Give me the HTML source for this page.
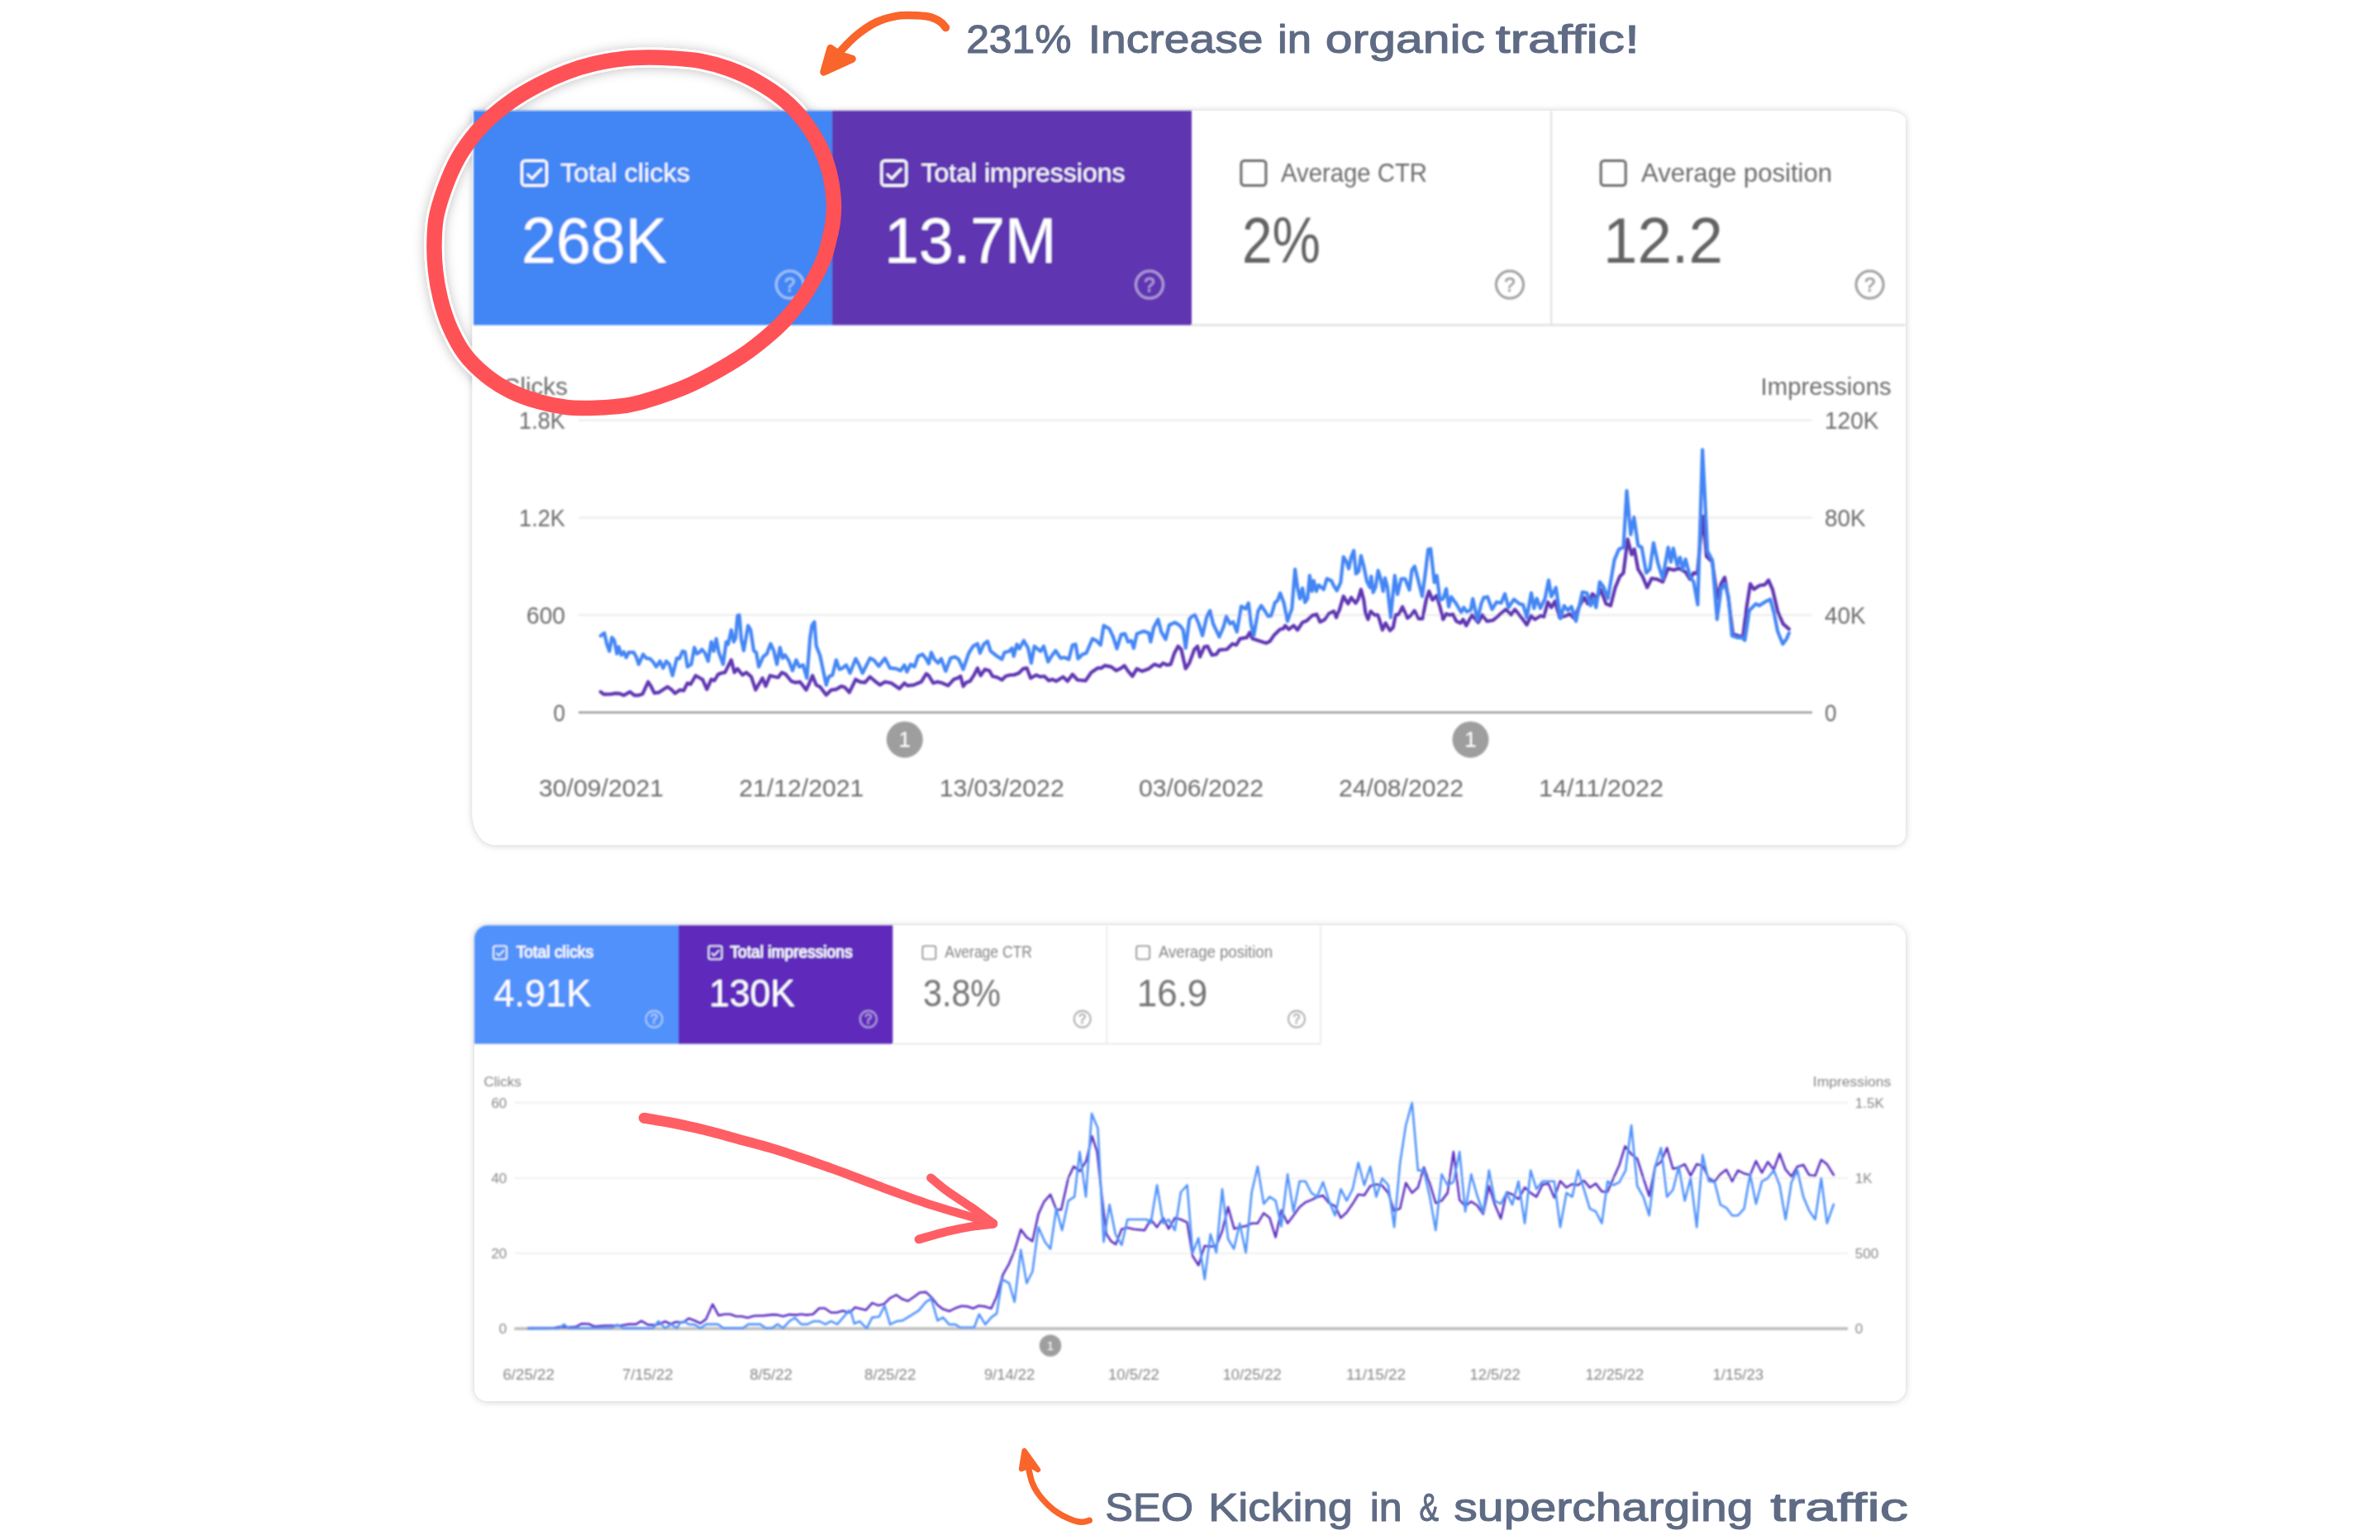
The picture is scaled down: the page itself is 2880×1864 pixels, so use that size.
<!DOCTYPE html>
<html><head><meta charset="utf-8"><title>Search Console results</title>
<style>
html,body{margin:0;padding:0;background:#fff;}
body{width:2880px;height:1864px;overflow:hidden;position:relative;}
svg{position:absolute;left:0;top:0;display:block;font-family:"Liberation Sans", Arial, sans-serif;}
</style></head><body>
<svg width="2880" height="1864" viewBox="0 0 2880 1864">
<defs>
<filter id="sh" x="-5%" y="-5%" width="110%" height="110%"><feDropShadow dx="0" dy="0.5" stdDeviation="4.5" flood-color="#000" flood-opacity="0.2"/></filter>
<filter id="sh2" x="-10%" y="-10%" width="120%" height="120%"><feDropShadow dx="0" dy="1" stdDeviation="7" flood-color="#000" flood-opacity="0.25"/></filter>
<filter id="b1" filterUnits="userSpaceOnUse" x="0" y="0" width="2880" height="1864"><feGaussianBlur stdDeviation="0.85"/></filter>
<filter id="b2" filterUnits="userSpaceOnUse" x="0" y="0" width="2880" height="1864"><feGaussianBlur stdDeviation="0.8"/></filter>
</defs>
<rect width="2880" height="1864" fill="#fff"/>
<path d="M785.0,69.5 C795.1,69.4 803.4,69.7 813.8,70.4 C824.2,71.1 836.2,71.7 847.5,73.8 C858.8,75.9 870.0,78.9 881.3,83.0 C892.5,87.1 903.8,91.9 915.0,98.2 C926.2,104.5 938.9,112.7 948.8,121.0 C958.7,129.3 966.9,138.4 974.2,148.0 C981.5,157.6 987.8,168.3 992.7,178.4 C997.6,188.5 1001.0,198.1 1003.7,208.8 C1006.4,219.5 1008.1,232.7 1008.8,242.6 C1009.5,252.5 1008.6,260.9 1007.9,268.0 C1007.2,275.1 1006.2,278.2 1004.5,285.3 C1002.8,292.4 1000.9,302.2 997.8,310.6 C994.7,319.1 990.5,327.6 986.0,336.0 C981.5,344.4 976.7,352.9 970.8,361.3 C964.9,369.7 957.8,378.7 950.5,386.6 C943.2,394.5 935.6,401.3 926.9,408.6 C918.2,415.9 908.6,423.5 898.2,430.5 C887.8,437.5 875.7,444.6 864.4,450.8 C853.1,457.0 841.9,462.8 830.6,467.7 C819.4,472.6 806.2,477.1 796.9,480.3 C787.6,483.5 782.3,485.2 775.0,487.0 C767.7,488.8 762.5,490.2 753.3,491.3 C744.0,492.4 730.8,493.5 719.5,493.8 C708.2,494.1 697.0,494.3 685.7,493.0 C674.5,491.7 663.2,489.4 652.0,486.2 C640.8,483.0 628.9,478.9 618.2,473.6 C607.5,468.3 597.1,461.7 587.8,454.2 C578.5,446.7 569.8,438.6 562.5,428.8 C555.2,419.0 548.8,406.4 543.9,395.1 C539.0,383.9 535.7,372.6 532.9,361.3 C530.1,350.0 528.2,338.8 527.0,327.5 C525.8,316.2 525.2,305.1 525.5,293.8 C525.8,282.6 525.7,272.8 528.5,260.0 C531.3,247.2 537.1,230.1 542.2,217.3 C547.3,204.6 552.1,194.5 559.1,183.5 C566.1,172.5 574.5,161.5 584.4,151.4 C594.2,141.3 606.9,130.8 618.2,122.7 C629.5,114.5 640.8,108.4 652.0,102.5 C663.2,96.6 674.5,91.5 685.7,87.3 C697.0,83.1 708.2,79.8 719.5,77.1 C730.8,74.4 742.4,72.5 753.3,71.2 C764.2,69.9 774.9,69.6 785.0,69.5 Z" fill="none" stroke="#fff" stroke-width="24" filter="url(#sh2)"/>
<path d="M571.5,134.0 H2280.0 A26,12 0 0 1 2306.0,146.0 V1008.8 A14,14 0 0 1 2292.0,1022.8 H598.5 A27,39 0 0 1 571.5,983.8 V134.0 Z" fill="#fff" filter="url(#sh)"/>
<g filter="url(#b1)">
<rect x="573" y="134" width="434" height="259.5" fill="#4285f4"/>
<rect x="1007" y="134" width="435" height="259.5" fill="#5e35b1"/>
<rect x="1442" y="392.3" width="864" height="2.4" fill="#e0e0e0"/>
<rect x="1876.2" y="134" width="1.8" height="259.5" fill="#dcdcdc"/>
<rect x="631.5" y="194.5" width="30.0" height="30.0" rx="4" fill="none" stroke="#fff" stroke-width="3"/>
<path d="M637.9,210.5 L643.9,216.1 L655.7,203.9" fill="none" stroke="#fff" stroke-width="3"/>
<text x="678.0" y="220.3" font-size="32.0" fill="#fff" text-anchor="start" font-weight="400" textLength="157.0" lengthAdjust="spacingAndGlyphs">Total clicks</text>
<text x="631.0" y="318.0" font-size="77.5" fill="#fff" text-anchor="start" font-weight="400" textLength="176.0" lengthAdjust="spacingAndGlyphs">268K</text>
<g opacity="0.5"><circle cx="955.8" cy="344.6" r="16.5" fill="none" stroke="#fff" stroke-width="3"/>
<text x="955.8" y="353.2" font-size="24" fill="#fff" text-anchor="middle" stroke="#fff" stroke-width="0.6">?</text></g>
<rect x="1066.8" y="194.5" width="30.0" height="30.0" rx="4" fill="none" stroke="#fff" stroke-width="3"/>
<path d="M1073.2,210.5 L1079.2,216.1 L1091.0,203.9" fill="none" stroke="#fff" stroke-width="3"/>
<text x="1114.5" y="220.3" font-size="32.0" fill="#fff" text-anchor="start" font-weight="400" textLength="247.0" lengthAdjust="spacingAndGlyphs">Total impressions</text>
<text x="1070.3" y="318.0" font-size="77.5" fill="#fff" text-anchor="start" font-weight="400" textLength="208.0" lengthAdjust="spacingAndGlyphs">13.7M</text>
<g opacity="0.5"><circle cx="1391.0" cy="344.6" r="16.5" fill="none" stroke="#fff" stroke-width="3"/>
<text x="1391.0" y="353.2" font-size="24" fill="#fff" text-anchor="middle" stroke="#fff" stroke-width="0.6">?</text></g>
<rect x="1501.9" y="194.5" width="30.0" height="30.0" rx="4" fill="none" stroke="#6c6c6c" stroke-width="3"/>
<text x="1550.0" y="220.3" font-size="32.0" fill="#6c6c6c" text-anchor="start" font-weight="400" textLength="177.0" lengthAdjust="spacingAndGlyphs">Average CTR</text>
<text x="1503.0" y="318.0" font-size="77.5" fill="#646464" text-anchor="start" font-weight="400" textLength="95.0" lengthAdjust="spacingAndGlyphs">2%</text>
<g opacity="1"><circle cx="1827.0" cy="344.6" r="16.5" fill="none" stroke="#9e9e9e" stroke-width="3"/>
<text x="1827.0" y="353.2" font-size="24" fill="#9e9e9e" text-anchor="middle" stroke="#9e9e9e" stroke-width="0.6">?</text></g>
<rect x="1937.2" y="194.5" width="30.0" height="30.0" rx="4" fill="none" stroke="#6c6c6c" stroke-width="3"/>
<text x="1986.0" y="220.3" font-size="32.0" fill="#6c6c6c" text-anchor="start" font-weight="400" textLength="231.0" lengthAdjust="spacingAndGlyphs">Average position</text>
<text x="1940.0" y="318.0" font-size="77.5" fill="#646464" text-anchor="start" font-weight="400" textLength="145.0" lengthAdjust="spacingAndGlyphs">12.2</text>
<g opacity="1"><circle cx="2262.6" cy="344.6" r="16.5" fill="none" stroke="#9e9e9e" stroke-width="3"/>
<text x="2262.6" y="353.2" font-size="24" fill="#9e9e9e" text-anchor="middle" stroke="#9e9e9e" stroke-width="0.6">?</text></g>
<rect x="700" y="507.5" width="1493" height="2.2" fill="#ececec"/>
<rect x="700" y="625.4" width="1493" height="2.2" fill="#ececec"/>
<rect x="700" y="743.3" width="1493" height="2.2" fill="#ececec"/>
<rect x="700" y="861.0" width="1493" height="2.6" fill="#9e9e9e"/>
<text x="684.0" y="518.9" font-size="29.5" fill="#6c6c6c" text-anchor="end" font-weight="400" textLength="56.0" lengthAdjust="spacingAndGlyphs">1.8K</text>
<text x="684.0" y="636.8" font-size="29.5" fill="#6c6c6c" text-anchor="end" font-weight="400" textLength="56.0" lengthAdjust="spacingAndGlyphs">1.2K</text>
<text x="684.0" y="754.7" font-size="29.5" fill="#6c6c6c" text-anchor="end" font-weight="400" textLength="47.0" lengthAdjust="spacingAndGlyphs">600</text>
<text x="684.0" y="872.6" font-size="29.5" fill="#6c6c6c" text-anchor="end" font-weight="400" textLength="14.5" lengthAdjust="spacingAndGlyphs">0</text>
<text x="2208.0" y="518.9" font-size="29.5" fill="#6c6c6c" text-anchor="start" font-weight="400" textLength="65.5" lengthAdjust="spacingAndGlyphs">120K</text>
<text x="2208.0" y="636.8" font-size="29.5" fill="#6c6c6c" text-anchor="start" font-weight="400" textLength="49.6" lengthAdjust="spacingAndGlyphs">80K</text>
<text x="2208.0" y="754.7" font-size="29.5" fill="#6c6c6c" text-anchor="start" font-weight="400" textLength="49.6" lengthAdjust="spacingAndGlyphs">40K</text>
<text x="2208.0" y="872.6" font-size="29.5" fill="#6c6c6c" text-anchor="start" font-weight="400" textLength="14.5" lengthAdjust="spacingAndGlyphs">0</text>
<text x="608.0" y="477.6" font-size="29.5" fill="#6c6c6c" text-anchor="start" font-weight="400" textLength="79.0" lengthAdjust="spacingAndGlyphs">Clicks</text>
<text x="2288.6" y="477.6" font-size="29.5" fill="#6c6c6c" text-anchor="end" font-weight="400" textLength="158.0" lengthAdjust="spacingAndGlyphs">Impressions</text>
<text x="652.0" y="963.8" font-size="29.5" fill="#6c6c6c" text-anchor="start" font-weight="400" textLength="151.0" lengthAdjust="spacingAndGlyphs">30/09/2021</text>
<text x="894.3" y="963.8" font-size="29.5" fill="#6c6c6c" text-anchor="start" font-weight="400" textLength="151.0" lengthAdjust="spacingAndGlyphs">21/12/2021</text>
<text x="1136.7" y="963.8" font-size="29.5" fill="#6c6c6c" text-anchor="start" font-weight="400" textLength="151.0" lengthAdjust="spacingAndGlyphs">13/03/2022</text>
<text x="1378.0" y="963.8" font-size="29.5" fill="#6c6c6c" text-anchor="start" font-weight="400" textLength="151.0" lengthAdjust="spacingAndGlyphs">03/06/2022</text>
<text x="1620.0" y="963.8" font-size="29.5" fill="#6c6c6c" text-anchor="start" font-weight="400" textLength="151.0" lengthAdjust="spacingAndGlyphs">24/08/2022</text>
<text x="1862.0" y="963.8" font-size="29.5" fill="#6c6c6c" text-anchor="start" font-weight="400" textLength="151.0" lengthAdjust="spacingAndGlyphs">14/11/2022</text>
<circle cx="1094.8" cy="895.2" r="22" fill="#9e9e9e"/>
<text x="1094.8" y="904.3" font-size="26" fill="#fff" text-anchor="middle">1</text>
<circle cx="1779.5" cy="895.2" r="22" fill="#9e9e9e"/>
<text x="1779.5" y="904.3" font-size="26" fill="#fff" text-anchor="middle">1</text>
<path d="M726.8,837.4 L730.6,840.4 L739.7,840.1 L744.2,839.2 L750.3,839.7 L754.8,841.6 L762.4,837.4 L767.6,841.6 L772.9,841.6 L777.5,840.1 L784.3,825.3 L787.3,829.8 L791.8,838.9 L797.1,838.2 L807.7,831.3 L812.3,834.4 L816.8,839.2 L822.9,835.1 L827.4,835.9 L831.9,826.8 L835.7,828.3 L841.8,817.7 L847.1,820.8 L850.1,822.3 L855.4,834.4 L860.7,822.3 L864.5,823.8 L869.0,816.2 L872.8,814.7 L877.3,813.9 L884.9,798.8 L888.7,813.9 L892.4,809.4 L898.5,817.0 L903.0,813.9 L909.1,819.2 L914.4,835.1 L918.2,828.3 L922.7,820.8 L926.5,830.6 L931.8,817.7 L937.8,819.2 L941.6,820.0 L946.1,813.9 L950.7,816.2 L957.5,824.5 L962.0,826.1 L968.1,825.3 L975.6,835.1 L979.4,826.8 L983.2,817.7 L987.7,829.1 L992.3,831.3 L999.8,841.2 L1005.9,835.1 L1011.9,834.4 L1018.0,830.6 L1022.5,832.1 L1027.8,838.2 L1035.4,822.3 L1040.7,825.3 L1046.7,826.1 L1052.8,819.2 L1058.8,824.5 L1064.9,829.1 L1070.9,825.3 L1078.5,826.8 L1088.3,833.6 L1094.4,826.8 L1098.2,829.8 L1105.7,829.1 L1114.8,825.3 L1120.8,815.5 L1123.9,817.7 L1129.2,826.8 L1134.5,825.3 L1140.5,826.8 L1147.3,829.8 L1154.1,822.3 L1158.7,820.8 L1162.4,818.5 L1165.5,830.6 L1169.2,826.1 L1173.8,824.5 L1178.3,817.7 L1182.9,808.7 L1186.6,817.7 L1191.9,810.2 L1197.2,811.7 L1201.0,818.5 L1207.1,820.0 L1212.4,823.0 L1216.9,818.5 L1222.2,817.0 L1226.7,817.0 L1232.8,814.7 L1238.1,809.4 L1242.6,808.7 L1247.1,820.8 L1253.9,817.0 L1258.5,819.2 L1263.8,818.5 L1269.1,823.8 L1273.6,822.3 L1278.2,824.5 L1286.5,819.2 L1291.8,824.5 L1297.8,816.2 L1303.9,823.0 L1313.7,823.8 L1320.5,813.9 L1328.1,808.7 L1332.6,808.7 L1337.1,805.6 L1344.7,807.1 L1350.8,811.7 L1356.8,808.7 L1360.6,805.6 L1365.1,812.4 L1370.4,818.5 L1375.7,809.4 L1381.8,812.4 L1390.1,809.4 L1396.9,804.1 L1403.7,806.4 L1407.5,802.6 L1412.0,804.9 L1416.6,804.1 L1421.1,790.5 L1425.6,782.2 L1429.4,786.0 L1434.7,809.4 L1439.2,802.6 L1445.3,786.0 L1449.1,782.2 L1452.1,795.0 L1457.4,782.9 L1461.2,782.2 L1466.5,792.8 L1471.8,792.0 L1475.5,786.7 L1484.6,786.0 L1491.4,779.2 L1496.0,780.7 L1500.5,773.1 L1508.8,771.6 L1512.3,765.5 L1515.6,773.1 L1524.7,776.1 L1532.3,778.4 L1536.8,776.1 L1541.3,769.3 L1548.9,761.8 L1552.7,761.0 L1555.3,757.2 L1559.5,761.8 L1565.5,757.2 L1570.1,762.5 L1576.1,753.4 L1581.4,751.2 L1587.5,745.1 L1593.5,743.6 L1597.3,752.7 L1602.6,750.4 L1607.9,742.9 L1613.9,739.8 L1617.0,747.4 L1620.8,738.3 L1625.7,721.7 L1631.3,730.8 L1635.1,723.2 L1640.4,730.0 L1643.4,725.5 L1646.9,713.4 L1650.3,726.2 L1652.5,742.9 L1655.5,749.7 L1658.6,739.8 L1663.1,744.4 L1667.6,744.4 L1672.9,762.5 L1676.7,754.2 L1682.0,763.3 L1685.8,759.5 L1688.8,744.4 L1692.6,743.6 L1697.1,734.5 L1703.2,748.2 L1707.7,744.4 L1711.5,739.1 L1716.8,748.9 L1721.3,748.9 L1725.9,725.5 L1729.2,715.6 L1733.4,726.2 L1738.3,720.9 L1742.5,734.5 L1746.3,749.7 L1750.1,742.9 L1753.9,744.4 L1758.4,743.6 L1762.2,751.9 L1767.5,754.2 L1770.5,749.7 L1774.3,757.2 L1781.1,744.4 L1784.9,748.9 L1788.7,753.4 L1793.9,744.4 L1799.2,751.9 L1800.0,751.9 L1806.6,750.8 L1814.4,744.2 L1822.1,737.6 L1828.7,744.2 L1833.1,737.6 L1842.0,748.6 L1847.5,756.3 L1853.0,745.3 L1857.4,749.7 L1864.0,745.3 L1868.4,746.4 L1872.9,728.7 L1877.3,735.3 L1881.7,727.6 L1887.2,747.5 L1894.9,745.3 L1899.4,743.1 L1904.9,748.6 L1910.4,735.3 L1917.0,723.2 L1921.4,730.9 L1927.0,718.8 L1932.5,724.3 L1936.9,713.3 L1943.5,730.9 L1949.0,733.1 L1954.6,711.1 L1960.1,697.8 L1964.5,693.4 L1969.6,652.5 L1974.4,671.3 L1977.7,664.7 L1982.2,689.0 L1987.7,697.8 L1993.2,711.1 L1998.7,700.0 L2005.3,701.1 L2012.0,704.4 L2018.6,687.9 L2025.2,690.1 L2031.8,687.9 L2039.6,692.3 L2045.1,701.1 L2049.5,693.4 L2053.9,694.5 L2057.2,658.1 L2061.0,624.9 L2065.0,673.5 L2072.0,680.1 L2078.2,724.3 L2082.6,706.6 L2087.0,698.9 L2091.5,724.3 L2097.0,767.4 L2103.6,769.6 L2109.1,770.7 L2113.5,735.3 L2118.0,706.6 L2122.4,713.3 L2129.0,708.8 L2135.6,707.7 L2140.0,702.2 L2144.9,713.3 L2151.1,739.8 L2157.7,755.2 L2164.8,761.4" fill="none" stroke="#5e35b1" stroke-width="4.2" stroke-linejoin="round" stroke-linecap="round"/>
<path d="M726.8,769.6 L731.3,766.3 L734.4,779.9 L737.4,788.2 L740.4,771.6 L743.4,775.4 L746.5,791.3 L748.7,782.9 L751.8,792.8 L754.8,789.0 L757.8,795.8 L760.8,789.7 L766.9,789.7 L769.9,795.0 L772.9,804.1 L778.2,792.0 L782.0,796.6 L786.6,797.3 L790.3,801.1 L794.1,807.1 L798.7,800.3 L802.4,808.7 L806.2,800.3 L810.0,804.1 L813.8,817.7 L819.1,796.6 L822.1,797.3 L825.9,788.2 L828.9,789.0 L831.9,807.1 L836.5,804.1 L840.3,783.7 L843.3,791.3 L846.3,789.7 L849.3,786.0 L853.1,790.5 L856.9,800.3 L860.7,776.9 L863.7,788.2 L866.7,773.1 L869.7,789.0 L875.0,804.1 L878.8,776.9 L881.1,779.9 L884.9,762.5 L887.9,776.9 L890.2,772.4 L892.4,745.1 L894.7,744.4 L897.0,773.9 L900.0,787.5 L905.3,757.2 L908.3,762.5 L912.1,787.5 L915.1,789.7 L918.2,807.1 L923.4,795.0 L928.0,791.3 L932.5,779.2 L936.3,787.5 L940.1,804.1 L943.9,783.7 L946.9,796.6 L949.9,792.8 L954.5,799.6 L959.0,811.7 L963.5,798.8 L967.3,807.1 L971.8,804.9 L976.4,820.8 L980.2,772.4 L982.4,757.2 L985.5,752.7 L987.7,781.4 L992.3,793.5 L999.8,829.1 L1002.9,819.2 L1007.4,817.0 L1011.9,798.8 L1015.7,810.2 L1019.5,808.7 L1024.0,804.9 L1028.6,814.7 L1035.4,797.3 L1039.2,804.1 L1043.7,814.7 L1052.8,796.6 L1057.3,798.8 L1063.4,806.4 L1070.9,796.6 L1077.0,808.7 L1084.5,809.4 L1089.8,811.7 L1094.4,804.9 L1097.4,813.2 L1101.9,804.1 L1106.5,807.1 L1111.0,794.3 L1116.3,792.0 L1120.1,796.6 L1123.9,803.4 L1126.9,789.7 L1130.7,798.1 L1135.2,802.6 L1139.0,797.3 L1144.3,812.4 L1150.3,796.6 L1155.6,795.0 L1160.2,798.1 L1165.5,810.2 L1172.3,790.5 L1177.6,782.2 L1182.9,779.2 L1185.9,790.5 L1190.4,779.9 L1195.0,776.1 L1198.7,788.2 L1205.5,793.5 L1212.4,798.1 L1215.4,789.7 L1221.4,788.2 L1224.5,784.5 L1226.7,794.3 L1230.5,779.9 L1233.5,785.2 L1238.8,775.4 L1244.1,784.5 L1247.9,802.6 L1251.7,782.2 L1256.2,786.0 L1259.2,788.2 L1263.0,782.2 L1268.3,801.1 L1272.9,793.5 L1277.4,787.5 L1283.4,796.6 L1288.0,795.8 L1293.3,798.1 L1297.8,780.7 L1301.6,779.9 L1304.6,797.3 L1309.9,792.0 L1314.5,790.5 L1322.0,773.1 L1326.6,775.4 L1331.8,780.7 L1335.6,757.2 L1342.4,761.0 L1347.0,770.8 L1351.5,785.2 L1356.8,767.8 L1361.3,767.1 L1365.1,776.9 L1368.9,775.4 L1371.9,784.5 L1375.7,767.1 L1384.0,764.0 L1390.1,766.3 L1392.4,776.9 L1396.1,759.5 L1401.4,749.7 L1405.2,764.8 L1410.5,773.9 L1415.0,756.5 L1421.8,753.4 L1427.9,757.2 L1431.7,762.5 L1434.7,784.5 L1439.2,749.7 L1442.3,745.9 L1446.1,744.4 L1450.6,755.0 L1455.1,769.3 L1460.4,745.9 L1464.2,739.1 L1468.0,755.0 L1475.5,770.8 L1480.8,758.0 L1483.9,745.9 L1488.4,755.0 L1492.2,752.7 L1496.7,764.8 L1502.0,733.8 L1507.3,736.8 L1510.8,730.0 L1514.1,756.5 L1517.1,769.3 L1522.4,739.8 L1526.2,733.0 L1530.8,739.8 L1534.5,745.9 L1538.3,745.1 L1542.9,729.2 L1545.9,727.0 L1549.2,717.9 L1553.4,729.2 L1558.0,751.9 L1563.3,736.8 L1567.1,689.2 L1570.1,711.1 L1573.1,724.7 L1576.1,711.8 L1579.2,729.2 L1582.2,724.7 L1584.8,696.7 L1587.5,715.6 L1589.7,702.8 L1592.8,715.6 L1595.8,708.1 L1601.8,713.4 L1605.6,700.5 L1610.9,702.8 L1613.9,708.8 L1617.7,714.9 L1622.3,705.0 L1625.7,674.0 L1629.1,679.3 L1632.1,688.4 L1635.1,674.0 L1638.2,666.5 L1640.9,694.5 L1644.2,691.4 L1646.9,672.5 L1650.3,685.4 L1654.0,703.5 L1657.8,711.1 L1659.3,697.5 L1661.6,717.1 L1664.6,710.3 L1667.6,690.7 L1670.7,700.5 L1673.7,715.6 L1676.0,699.7 L1679.0,711.1 L1682.8,747.4 L1687.8,696.7 L1691.1,719.4 L1695.6,700.5 L1700.2,700.5 L1705.5,714.1 L1708.5,689.9 L1711.8,685.4 L1716.1,702.0 L1721.0,721.7 L1725.1,691.4 L1728.2,665.0 L1731.2,664.2 L1735.7,705.0 L1738.7,696.7 L1742.5,726.2 L1746.3,724.7 L1750.1,712.6 L1753.1,734.5 L1756.1,722.4 L1762.2,730.8 L1768.2,741.3 L1771.3,735.3 L1775.0,740.6 L1779.6,738.3 L1782.2,724.7 L1787.9,750.4 L1792.4,730.8 L1795.5,723.2 L1799.2,723.2 L1800.0,722.1 L1805.5,737.6 L1811.0,728.7 L1816.6,729.8 L1821.0,718.8 L1825.4,735.3 L1832.0,725.4 L1838.6,730.9 L1843.1,732.0 L1847.5,747.5 L1853.0,717.7 L1856.3,736.4 L1859.6,724.3 L1864.0,736.4 L1869.6,724.3 L1874.0,702.2 L1877.3,722.1 L1882.8,711.1 L1888.3,748.6 L1892.7,733.1 L1897.2,738.7 L1901.6,734.2 L1907.1,751.9 L1914.8,716.6 L1920.3,717.7 L1924.8,733.1 L1928.1,724.3 L1931.4,735.3 L1935.8,704.4 L1940.2,710.0 L1945.7,724.3 L1953.5,677.9 L1959.0,664.7 L1964.5,662.5 L1968.5,594.0 L1973.3,647.0 L1977.3,626.0 L1982.2,660.3 L1986.6,662.5 L1992.1,693.4 L1996.5,689.0 L2000.9,657.0 L2006.4,682.4 L2012.0,700.0 L2018.6,662.5 L2021.9,680.1 L2024.8,663.6 L2029.6,684.6 L2032.9,674.6 L2036.3,689.0 L2039.6,676.8 L2045.1,697.8 L2049.5,704.4 L2054.4,732.0 L2060.1,544.4 L2062.8,596.2 L2066.1,666.9 L2072.0,677.9 L2077.8,749.7 L2082.6,713.3 L2087.0,706.6 L2091.5,722.1 L2095.9,769.6 L2102.5,771.8 L2108.0,771.8 L2111.3,775.1 L2116.9,738.7 L2124.6,730.9 L2129.0,733.1 L2135.6,728.7 L2142.2,725.4 L2146.7,742.0 L2151.1,764.0 L2157.3,779.5 L2162.1,772.9 L2164.8,766.3" fill="none" stroke="#4285f4" stroke-width="4.2" stroke-linejoin="round" stroke-linecap="round"/>
</g>
<path d="M590.0,1120.0 H2290.0 A16,16 0 0 1 2306.0,1136.0 V1680.0 A16,16 0 0 1 2290.0,1696.0 H590.0 A16,16 0 0 1 574.0,1680.0 V1136.0 A16,16 0 0 1 590.0,1120.0 Z" fill="#fff" filter="url(#sh)"/>
<g filter="url(#b2)">
<path d="M590.0,1120.0 H821.0 V1263.5 H574.0 V1136.0 A16,16 0 0 1 590.0,1120.0 Z" fill="#5191fb"/>
<rect x="821" y="1120" width="259.29999999999995" height="143.5" fill="#5e2bbc"/>
<rect x="1080.3" y="1262.7" width="517.7" height="1.6" fill="#e4e4e4"/>
<rect x="1338.6" y="1120" width="1.4" height="143.5" fill="#e4e4e4"/>
<rect x="1597.3" y="1120" width="1.4" height="143.5" fill="#e4e4e4"/>
<rect x="597.1" y="1145.0" width="16.0" height="16.0" rx="2.5" fill="none" stroke="#fff" stroke-width="1.6"/>
<path d="M600.5,1153.5 L603.7,1156.5 L610.0,1150.0" fill="none" stroke="#fff" stroke-width="1.6"/>
<text x="624.7" y="1159.2" font-size="20.5" fill="#fff" text-anchor="start" font-weight="400" textLength="93.5" lengthAdjust="spacingAndGlyphs" stroke="#fff" stroke-width="0.7">Total clicks</text>
<text x="597.4" y="1218.0" font-size="45.5" fill="#fff" text-anchor="start" font-weight="400" textLength="118.0" lengthAdjust="spacingAndGlyphs">4.91K</text>
<g opacity="0.55"><circle cx="791.5" cy="1233.5" r="10" fill="none" stroke="#fff" stroke-width="1.8"/>
<text x="791.5" y="1239.3" font-size="16" fill="#fff" text-anchor="middle" stroke="#fff" stroke-width="0.6">?</text></g>
<rect x="857.5" y="1145.0" width="16.0" height="16.0" rx="2.5" fill="none" stroke="#fff" stroke-width="1.6"/>
<path d="M860.9,1153.5 L864.1,1156.5 L870.4,1150.0" fill="none" stroke="#fff" stroke-width="1.6"/>
<text x="883.5" y="1159.2" font-size="20.5" fill="#fff" text-anchor="start" font-weight="400" textLength="148.0" lengthAdjust="spacingAndGlyphs" stroke="#fff" stroke-width="0.7">Total impressions</text>
<text x="858.0" y="1218.0" font-size="45.5" fill="#fff" text-anchor="start" font-weight="400" textLength="104.0" lengthAdjust="spacingAndGlyphs">130K</text>
<g opacity="0.55"><circle cx="1050.8" cy="1233.5" r="10" fill="none" stroke="#fff" stroke-width="1.8"/>
<text x="1050.8" y="1239.3" font-size="16" fill="#fff" text-anchor="middle" stroke="#fff" stroke-width="0.6">?</text></g>
<rect x="1116.4" y="1145.0" width="16.0" height="16.0" rx="2.5" fill="none" stroke="#8a8a8a" stroke-width="1.6"/>
<text x="1143.3" y="1159.2" font-size="20.5" fill="#848484" text-anchor="start" font-weight="400" textLength="105.5" lengthAdjust="spacingAndGlyphs">Average CTR</text>
<text x="1117.0" y="1218.0" font-size="45.5" fill="#747474" text-anchor="start" font-weight="400" textLength="94.0" lengthAdjust="spacingAndGlyphs">3.8%</text>
<g opacity="1"><circle cx="1309.7" cy="1233.5" r="10" fill="none" stroke="#a8a8a8" stroke-width="1.8"/>
<text x="1309.7" y="1239.3" font-size="16" fill="#a8a8a8" text-anchor="middle" stroke="#a8a8a8" stroke-width="0.6">?</text></g>
<rect x="1375.2" y="1145.0" width="16.0" height="16.0" rx="2.5" fill="none" stroke="#8a8a8a" stroke-width="1.6"/>
<text x="1402.0" y="1159.2" font-size="20.5" fill="#848484" text-anchor="start" font-weight="400" textLength="138.0" lengthAdjust="spacingAndGlyphs">Average position</text>
<text x="1375.8" y="1218.0" font-size="45.5" fill="#747474" text-anchor="start" font-weight="400" textLength="85.5" lengthAdjust="spacingAndGlyphs">16.9</text>
<g opacity="1"><circle cx="1569.0" cy="1233.5" r="10" fill="none" stroke="#a8a8a8" stroke-width="1.8"/>
<text x="1569.0" y="1239.3" font-size="16" fill="#a8a8a8" text-anchor="middle" stroke="#a8a8a8" stroke-width="0.6">?</text></g>
<rect x="622.4" y="1333.7" width="1613.6" height="1.8" fill="#eeeeee"/>
<rect x="622.4" y="1424.9" width="1613.6" height="1.8" fill="#eeeeee"/>
<rect x="622.4" y="1516.1" width="1613.6" height="1.8" fill="#eeeeee"/>
<rect x="622.4" y="1606.4" width="1613.6" height="3.6" fill="#bdbdbd"/>
<text x="613.3" y="1340.6" font-size="17.0" fill="#868686" text-anchor="end" font-weight="400">60</text>
<text x="613.3" y="1431.8" font-size="17.0" fill="#868686" text-anchor="end" font-weight="400">40</text>
<text x="613.3" y="1523.0" font-size="17.0" fill="#868686" text-anchor="end" font-weight="400">20</text>
<text x="613.3" y="1614.2" font-size="17.0" fill="#868686" text-anchor="end" font-weight="400">0</text>
<text x="2244.8" y="1340.6" font-size="17.0" fill="#868686" text-anchor="start" font-weight="400">1.5K</text>
<text x="2244.8" y="1431.8" font-size="17.0" fill="#868686" text-anchor="start" font-weight="400">1K</text>
<text x="2244.8" y="1523.0" font-size="17.0" fill="#868686" text-anchor="start" font-weight="400">500</text>
<text x="2244.8" y="1614.2" font-size="17.0" fill="#868686" text-anchor="start" font-weight="400">0</text>
<text x="585.4" y="1315.0" font-size="17.0" fill="#868686" text-anchor="start" font-weight="400" textLength="45.4" lengthAdjust="spacingAndGlyphs">Clicks</text>
<text x="2288.3" y="1315.0" font-size="17.0" fill="#868686" text-anchor="end" font-weight="400" textLength="94.5" lengthAdjust="spacingAndGlyphs">Impressions</text>
<text x="608.4" y="1669.6" font-size="17.5" fill="#868686" text-anchor="start" font-weight="400" textLength="62.4" lengthAdjust="spacingAndGlyphs">6/25/22</text>
<text x="752.9" y="1669.6" font-size="17.5" fill="#868686" text-anchor="start" font-weight="400" textLength="61.6" lengthAdjust="spacingAndGlyphs">7/15/22</text>
<text x="907.2" y="1669.6" font-size="17.5" fill="#868686" text-anchor="start" font-weight="400" textLength="51.8" lengthAdjust="spacingAndGlyphs">8/5/22</text>
<text x="1046.0" y="1669.6" font-size="17.5" fill="#868686" text-anchor="start" font-weight="400" textLength="62.4" lengthAdjust="spacingAndGlyphs">8/25/22</text>
<text x="1190.9" y="1669.6" font-size="17.5" fill="#868686" text-anchor="start" font-weight="400" textLength="61.2" lengthAdjust="spacingAndGlyphs">9/14/22</text>
<text x="1341.0" y="1669.6" font-size="17.5" fill="#868686" text-anchor="start" font-weight="400" textLength="61.7" lengthAdjust="spacingAndGlyphs">10/5/22</text>
<text x="1479.7" y="1669.6" font-size="17.5" fill="#868686" text-anchor="start" font-weight="400" textLength="71.1" lengthAdjust="spacingAndGlyphs">10/25/22</text>
<text x="1629.1" y="1669.6" font-size="17.5" fill="#868686" text-anchor="start" font-weight="400" textLength="71.9" lengthAdjust="spacingAndGlyphs">11/15/22</text>
<text x="1778.5" y="1669.6" font-size="17.5" fill="#868686" text-anchor="start" font-weight="400" textLength="61.3" lengthAdjust="spacingAndGlyphs">12/5/22</text>
<text x="1918.4" y="1669.6" font-size="17.5" fill="#868686" text-anchor="start" font-weight="400" textLength="70.8" lengthAdjust="spacingAndGlyphs">12/25/22</text>
<text x="2072.4" y="1669.6" font-size="17.5" fill="#868686" text-anchor="start" font-weight="400" textLength="61.6" lengthAdjust="spacingAndGlyphs">1/15/23</text>
<circle cx="1271.0" cy="1628.7" r="13.2" fill="#9e9e9e"/>
<text x="1271.0" y="1634.0" font-size="15" fill="#fff" text-anchor="middle">1</text>
<path d="M639.2,1607.6 L670.3,1607.2 L678.7,1605.9 L685.5,1606.7 L697.2,1605.9 L703.9,1602.2 L712.4,1602.5 L719.1,1605.5 L732.5,1604.5 L751.0,1604.5 L761.1,1602.9 L769.5,1602.9 L776.2,1598.8 L783.8,1603.4 L791.3,1603.9 L798.1,1602.5 L804.8,1599.5 L811.5,1602.5 L818.2,1600.0 L826.6,1600.8 L833.4,1595.8 L840.1,1598.3 L847.6,1601.7 L854.4,1596.6 L862.3,1578.7 L869.5,1592.1 L877.1,1590.8 L883.8,1590.8 L890.5,1593.3 L897.2,1593.3 L904.8,1595.0 L912.4,1592.8 L924.1,1592.4 L935.9,1591.1 L940.9,1591.6 L947.6,1593.3 L955.2,1591.1 L962.8,1591.6 L969.5,1590.8 L976.2,1591.6 L983.8,1590.8 L991.3,1583.5 L998.1,1583.5 L1005.6,1588.7 L1012.4,1588.7 L1019.9,1586.6 L1026.6,1588.7 L1030.0,1587.1 L1034.7,1582.4 L1047.9,1585.7 L1055.4,1577.1 L1063.0,1580.1 L1069.5,1578.6 L1077.1,1571.1 L1084.6,1567.3 L1092.1,1572.6 L1098.7,1574.8 L1106.3,1569.5 L1112.9,1564.5 L1120.4,1563.9 L1127.0,1570.1 L1134.5,1579.5 L1141.1,1584.6 L1148.6,1587.1 L1156.2,1583.3 L1163.7,1580.8 L1171.2,1581.4 L1177.8,1583.7 L1184.4,1580.5 L1192.0,1581.4 L1199.5,1583.7 L1206.1,1569.2 L1213.6,1542.8 L1221.1,1529.6 L1227.7,1513.6 L1235.3,1488.2 L1242.4,1497.6 L1249.4,1502.3 L1256.6,1469.4 L1263.5,1454.3 L1271.1,1445.8 L1278.2,1464.1 L1284.2,1464.1 L1292.7,1426.0 L1299.3,1411.9 L1306.8,1417.6 L1314.4,1405.3 L1321.5,1375.2 L1327.6,1394.0 L1333.2,1446.8 L1338.9,1493.8 L1344.5,1502.3 L1350.2,1506.1 L1357.3,1487.8 L1364.3,1485.9 L1371.8,1487.8 L1385.0,1489.1 L1392.5,1476.0 L1400.1,1485.4 L1407.6,1474.1 L1414.2,1487.3 L1421.7,1474.1 L1428.9,1476.0 L1436.6,1479.7 L1443.2,1520.2 L1450.3,1531.5 L1457.7,1508.0 L1464.8,1508.9 L1471.8,1508.0 L1479.0,1490.1 L1486.1,1460.9 L1493.5,1487.3 L1500.2,1485.4 L1507.6,1484.0 L1514.7,1480.7 L1521.9,1480.7 L1529.2,1468.4 L1536.4,1474.1 L1543.6,1497.6 L1550.5,1464.7 L1558.1,1480.7 L1565.2,1471.2 L1572.6,1460.9 L1579.7,1455.2 L1586.9,1452.4 L1593.8,1449.0 L1601.0,1447.1 L1608.2,1456.2 L1615.5,1459.9 L1622.5,1474.1 L1629.6,1467.5 L1636.8,1457.1 L1643.7,1445.8 L1650.9,1446.8 L1658.2,1435.5 L1665.4,1433.6 L1672.6,1435.1 L1679.9,1443.9 L1687.1,1465.6 L1694.2,1462.8 L1701.2,1431.7 L1708.7,1443.9 L1715.9,1437.3 L1723.0,1412.9 L1730.2,1432.6 L1737.3,1456.2 L1744.5,1453.4 L1751.7,1443.9 L1758.8,1394.0 L1766.2,1452.4 L1773.1,1459.9 L1780.3,1454.3 L1787.4,1459.0 L1794.8,1469.4 L1801.8,1435.5 L1808.9,1458.1 L1816.1,1475.0 L1823.2,1443.0 L1830.0,1445.8 L1837.5,1451.5 L1845.1,1437.3 L1852.2,1443.9 L1859.2,1448.6 L1866.7,1433.6 L1873.7,1432.6 L1880.8,1449.6 L1888.0,1429.4 L1895.5,1437.3 L1902.5,1433.2 L1909.5,1434.5 L1916.6,1428.9 L1923.8,1437.3 L1931.1,1432.6 L1938.3,1442.1 L1945.3,1442.6 L1952.4,1426.0 L1959.6,1410.0 L1966.5,1387.4 L1974.1,1396.9 L1981.2,1402.5 L1988.6,1426.0 L1995.7,1447.7 L2002.9,1411.9 L2010.0,1406.3 L2017.2,1389.3 L2024.4,1414.7 L2031.5,1412.9 L2038.7,1409.1 L2045.8,1423.2 L2053.2,1409.1 L2060.3,1411.0 L2067.7,1426.0 L2074.8,1429.8 L2081.8,1421.3 L2088.9,1415.7 L2096.1,1429.8 L2103.1,1416.6 L2110.6,1420.4 L2117.8,1422.3 L2124.9,1405.3 L2132.1,1419.5 L2139.2,1406.3 L2146.4,1415.7 L2153.5,1396.3 L2160.7,1415.7 L2167.9,1424.2 L2175.0,1411.9 L2182.2,1410.0 L2189.3,1422.3 L2196.5,1423.2 L2203.8,1403.8 L2210.8,1409.1 L2218.9,1422.3" fill="none" stroke="#5b2fc0" stroke-width="2.6" stroke-linejoin="round" stroke-linecap="round"/>
<path d="M639.2,1608.1 L677.1,1607.6 L682.4,1602.9 L688.0,1607.6 L740.9,1607.2 L746.8,1603.4 L754.4,1607.6 L790.5,1607.6 L796.7,1599.2 L804.8,1607.6 L812.4,1602.9 L819.1,1607.6 L823.3,1600.8 L828.0,1599.5 L833.4,1602.9 L840.9,1603.4 L847.6,1607.6 L854.4,1602.9 L868.7,1602.9 L875.4,1607.6 L898.9,1607.6 L905.6,1602.9 L919.9,1602.9 L926.6,1607.6 L934.2,1607.6 L940.9,1602.9 L947.6,1607.6 L955.2,1599.2 L961.9,1595.0 L969.5,1602.9 L977.1,1602.9 L984.6,1599.2 L991.3,1599.2 L998.9,1602.9 L1005.6,1599.2 L1013.2,1602.9 L1027.5,1586.1 L1030.0,1588.9 L1033.8,1602.1 L1040.4,1599.3 L1048.8,1607.8 L1055.4,1594.6 L1063.9,1593.7 L1070.5,1580.5 L1077.1,1603.1 L1084.6,1599.3 L1092.1,1598.4 L1101.6,1592.7 L1111.9,1586.1 L1120.4,1575.8 L1127.0,1572.0 L1134.5,1598.4 L1141.1,1594.6 L1148.6,1603.1 L1156.2,1603.1 L1161.8,1606.8 L1178.8,1606.8 L1184.8,1590.8 L1192.3,1603.1 L1199.5,1594.6 L1206.1,1589.9 L1212.7,1548.5 L1221.1,1553.2 L1227.7,1575.8 L1235.3,1512.7 L1242.4,1553.2 L1249.4,1539.0 L1256.6,1485.4 L1264.5,1503.3 L1271.1,1511.7 L1278.2,1462.8 L1285.2,1489.1 L1292.7,1453.4 L1300.2,1448.6 L1306.5,1394.0 L1314.0,1448.6 L1321.1,1347.9 L1328.5,1365.8 L1335.5,1503.3 L1342.6,1458.1 L1349.8,1493.8 L1357.3,1507.0 L1364.3,1476.0 L1387.8,1476.0 L1392.5,1480.7 L1400.1,1434.5 L1407.6,1480.7 L1414.2,1476.0 L1421.7,1489.1 L1428.9,1443.0 L1436.6,1434.5 L1443.2,1516.4 L1450.3,1498.5 L1457.7,1548.5 L1464.8,1493.8 L1471.8,1516.4 L1479.0,1439.2 L1486.1,1499.5 L1493.1,1511.7 L1500.2,1480.7 L1507.6,1516.4 L1514.7,1443.0 L1521.9,1411.9 L1529.2,1457.1 L1536.4,1448.6 L1543.6,1453.4 L1550.5,1484.4 L1558.1,1421.3 L1565.2,1466.5 L1572.6,1429.8 L1579.7,1429.8 L1586.9,1443.9 L1593.8,1448.6 L1601.0,1430.8 L1608.2,1453.4 L1615.5,1471.2 L1622.5,1439.2 L1629.6,1453.4 L1636.8,1439.2 L1643.7,1407.2 L1650.9,1434.5 L1658.2,1411.9 L1665.4,1448.6 L1672.6,1426.0 L1679.9,1434.5 L1687.1,1485.4 L1694.2,1407.2 L1701.2,1362.0 L1708.7,1334.7 L1715.9,1416.6 L1723.0,1416.6 L1730.2,1448.6 L1737.3,1489.1 L1744.5,1421.3 L1751.7,1434.5 L1758.8,1430.8 L1766.2,1394.0 L1773.1,1466.5 L1780.3,1421.3 L1787.4,1446.8 L1794.8,1467.5 L1801.8,1416.6 L1808.9,1453.4 L1816.1,1457.1 L1823.2,1443.9 L1830.0,1458.1 L1837.5,1429.8 L1845.1,1480.7 L1852.2,1416.6 L1859.2,1439.2 L1866.7,1429.8 L1880.8,1429.8 L1888.0,1485.4 L1895.5,1443.9 L1902.5,1448.6 L1909.5,1416.6 L1916.6,1439.2 L1923.8,1462.8 L1931.1,1466.5 L1938.3,1480.7 L1945.3,1429.8 L1952.4,1434.5 L1959.6,1430.8 L1967.1,1416.6 L1974.1,1362.0 L1981.2,1435.5 L1988.6,1448.6 L1995.7,1471.2 L2002.9,1411.9 L2010.0,1389.3 L2017.2,1448.6 L2024.4,1440.2 L2031.5,1411.9 L2038.7,1453.4 L2045.8,1426.0 L2053.2,1485.4 L2060.3,1397.8 L2067.7,1429.8 L2074.8,1430.8 L2081.8,1458.1 L2088.9,1461.8 L2096.1,1471.2 L2103.1,1471.2 L2110.6,1462.8 L2117.8,1421.3 L2124.9,1457.1 L2132.1,1429.8 L2139.2,1426.0 L2146.4,1416.6 L2153.5,1434.5 L2160.7,1476.0 L2167.9,1430.8 L2175.0,1416.6 L2182.2,1448.6 L2189.3,1465.6 L2196.5,1476.0 L2203.8,1426.0 L2210.8,1480.7 L2218.9,1457.7" fill="none" stroke="#4f93fb" stroke-width="2.6" stroke-linejoin="round" stroke-linecap="round"/>
</g>
<path d="M778.2,1359.6 L781.2,1360.1 L785.2,1360.8 L789.9,1361.5 L795.2,1362.4 L800.7,1363.3 L806.3,1364.3 L811.7,1365.3 L816.8,1366.2 L821.5,1367.2 L826.3,1368.2 L831.1,1369.2 L835.9,1370.3 L840.7,1371.3 L845.5,1372.4 L850.3,1373.6 L855.1,1374.7 L859.9,1375.9 L864.7,1377.2 L869.5,1378.5 L874.3,1379.8 L879.1,1381.2 L884.0,1382.5 L888.8,1383.8 L893.7,1385.2 L898.6,1386.5 L903.4,1387.8 L908.3,1389.0 L913.1,1390.3 L917.9,1391.6 L922.7,1392.9 L927.5,1394.2 L932.3,1395.6 L937.1,1397.0 L941.9,1398.5 L946.7,1400.1 L951.5,1401.6 L956.3,1403.2 L961.1,1404.8 L965.9,1406.4 L970.7,1408.0 L975.6,1409.6 L980.4,1411.3 L985.2,1412.9 L990.1,1414.6 L994.9,1416.2 L999.7,1417.9 L1004.5,1419.6 L1009.4,1421.3 L1014.2,1423.1 L1019.0,1424.8 L1023.8,1426.6 L1028.6,1428.4 L1033.4,1430.3 L1038.3,1432.1 L1043.1,1433.9 L1047.9,1435.7 L1052.8,1437.5 L1057.6,1439.3 L1062.5,1441.1 L1067.3,1442.9 L1072.2,1444.7 L1077.0,1446.5 L1081.9,1448.3 L1086.8,1450.1 L1091.6,1451.8 L1096.4,1453.5 L1101.3,1455.3 L1106.1,1457.0 L1111.0,1458.6 L1115.8,1460.3 L1120.7,1461.9 L1125.6,1463.5 L1130.5,1465.1 L1135.4,1466.6 L1140.3,1468.0 L1145.2,1469.5 L1150.1,1470.9 L1155.0,1472.3 L1159.7,1473.7 L1164.4,1475.0 L1169.3,1476.5 L1174.5,1478.0 L1179.8,1479.5 L1184.9,1481.0 L1189.8,1482.5 L1194.1,1483.7 L1197.8,1484.8 L1200.6,1485.6 L1203.4,1476.0 L1200.7,1475.2 L1197.0,1474.1 L1192.7,1472.8 L1187.8,1471.3 L1182.7,1469.8 L1177.4,1468.2 L1172.2,1466.6 L1167.4,1465.2 L1162.6,1463.8 L1157.9,1462.3 L1153.0,1460.9 L1148.2,1459.5 L1143.3,1458.0 L1138.5,1456.5 L1133.6,1455.0 L1128.8,1453.5 L1124.0,1451.9 L1119.3,1450.3 L1114.5,1448.6 L1109.7,1446.9 L1104.9,1445.2 L1100.1,1443.4 L1095.3,1441.7 L1090.4,1439.9 L1085.6,1438.1 L1080.8,1436.3 L1076.0,1434.5 L1071.2,1432.7 L1066.4,1430.8 L1061.5,1429.0 L1056.7,1427.1 L1051.9,1425.3 L1047.0,1423.5 L1042.2,1421.6 L1037.4,1419.8 L1032.6,1417.9 L1027.8,1416.1 L1022.9,1414.3 L1018.1,1412.4 L1013.2,1410.7 L1008.4,1408.9 L1003.5,1407.1 L998.7,1405.4 L993.8,1403.7 L989.0,1402.0 L984.1,1400.3 L979.3,1398.6 L974.5,1397.0 L969.6,1395.3 L964.8,1393.7 L960.0,1392.1 L955.1,1390.4 L950.3,1388.8 L945.4,1387.2 L940.6,1385.7 L935.7,1384.2 L930.8,1382.7 L925.9,1381.3 L921.1,1380.0 L916.2,1378.7 L911.4,1377.3 L906.5,1376.1 L901.7,1374.7 L896.9,1373.4 L892.1,1372.1 L887.3,1370.7 L882.4,1369.3 L877.6,1367.9 L872.7,1366.6 L867.9,1365.2 L863.0,1363.9 L858.1,1362.7 L853.2,1361.4 L848.4,1360.3 L843.5,1359.1 L838.7,1358.0 L833.8,1356.9 L829.0,1355.8 L824.1,1354.8 L819.2,1353.8 L814.1,1352.7 L808.6,1351.7 L802.9,1350.7 L797.3,1349.7 L792.1,1348.8 L787.3,1348.0 L783.4,1347.3 L780.4,1346.8Z" fill="#ff5f64"/><circle cx="779.3" cy="1353.2" r="6.5" fill="#ff5f64"/><circle cx="1202.0" cy="1480.8" r="5" fill="#ff5f64"/>
<path d="M1126.3,1425.7 C1129.7,1428.4 1138.4,1436.1 1146.6,1442.1 C1154.8,1448.0 1166.3,1455.0 1175.5,1461.4 C1184.7,1467.9 1197.6,1477.6 1202.0,1480.8 " fill="none" stroke="#ff5f64" stroke-width="10.5" stroke-linecap="round"/>
<path d="M1111.8,1500.1 C1117.6,1498.5 1136.0,1493.0 1146.6,1490.4 C1157.2,1487.8 1166.3,1486.1 1175.5,1484.6 C1184.7,1483.1 1197.6,1482.0 1202.0,1481.5 " fill="none" stroke="#ff5f64" stroke-width="10.5" stroke-linecap="round"/>
<path d="M785.0,69.5 C795.1,69.4 803.4,69.7 813.8,70.4 C824.2,71.1 836.2,71.7 847.5,73.8 C858.8,75.9 870.0,78.9 881.3,83.0 C892.5,87.1 903.8,91.9 915.0,98.2 C926.2,104.5 938.9,112.7 948.8,121.0 C958.7,129.3 966.9,138.4 974.2,148.0 C981.5,157.6 987.8,168.3 992.7,178.4 C997.6,188.5 1001.0,198.1 1003.7,208.8 C1006.4,219.5 1008.1,232.7 1008.8,242.6 C1009.5,252.5 1008.6,260.9 1007.9,268.0 C1007.2,275.1 1006.2,278.2 1004.5,285.3 C1002.8,292.4 1000.9,302.2 997.8,310.6 C994.7,319.1 990.5,327.6 986.0,336.0 C981.5,344.4 976.7,352.9 970.8,361.3 C964.9,369.7 957.8,378.7 950.5,386.6 C943.2,394.5 935.6,401.3 926.9,408.6 C918.2,415.9 908.6,423.5 898.2,430.5 C887.8,437.5 875.7,444.6 864.4,450.8 C853.1,457.0 841.9,462.8 830.6,467.7 C819.4,472.6 806.2,477.1 796.9,480.3 C787.6,483.5 782.3,485.2 775.0,487.0 C767.7,488.8 762.5,490.2 753.3,491.3 C744.0,492.4 730.8,493.5 719.5,493.8 C708.2,494.1 697.0,494.3 685.7,493.0 C674.5,491.7 663.2,489.4 652.0,486.2 C640.8,483.0 628.9,478.9 618.2,473.6 C607.5,468.3 597.1,461.7 587.8,454.2 C578.5,446.7 569.8,438.6 562.5,428.8 C555.2,419.0 548.8,406.4 543.9,395.1 C539.0,383.9 535.7,372.6 532.9,361.3 C530.1,350.0 528.2,338.8 527.0,327.5 C525.8,316.2 525.2,305.1 525.5,293.8 C525.8,282.6 525.7,272.8 528.5,260.0 C531.3,247.2 537.1,230.1 542.2,217.3 C547.3,204.6 552.1,194.5 559.1,183.5 C566.1,172.5 574.5,161.5 584.4,151.4 C594.2,141.3 606.9,130.8 618.2,122.7 C629.5,114.5 640.8,108.4 652.0,102.5 C663.2,96.6 674.5,91.5 685.7,87.3 C697.0,83.1 708.2,79.8 719.5,77.1 C730.8,74.4 742.4,72.5 753.3,71.2 C764.2,69.9 774.9,69.6 785.0,69.5 Z" fill="none" stroke="#ff5257" stroke-width="18.5"/>
<path d="M1015.1,63.9 C1018.6,60.4 1028.5,49.2 1035.9,43.1 C1043.4,37.0 1051.8,31.0 1059.8,27.1 C1067.8,23.2 1077.1,21.0 1083.8,19.6 C1090.5,18.2 1093.7,18.5 1099.7,18.5 C1105.7,18.5 1114.4,18.9 1119.7,19.6 C1125.0,20.3 1128.4,21.4 1131.7,22.8 C1135.0,24.2 1137.6,26.1 1139.7,27.9 C1141.8,29.7 1143.7,32.6 1144.5,33.5 " fill="none" stroke="#f9652a" stroke-width="9.6" stroke-linecap="round"/>
<path d="M1005,58.3 L1016.5,66.5 L1031.3,71.3 L996.8,87.2 Z" fill="#f9652a" stroke="#f9652a" stroke-width="9" stroke-linejoin="round"/>
<text font-size="48.5" fill="#5f6b84" stroke="#5f6b84" stroke-width="1.1" stroke-linejoin="round"><tspan x="1169.2" y="64.0" textLength="127.3" lengthAdjust="spacingAndGlyphs">231%</tspan> <tspan x="1316.7" y="64.0" textLength="211.8" lengthAdjust="spacingAndGlyphs">Increase</tspan> <tspan x="1546.0" y="64.0" textLength="41.0" lengthAdjust="spacingAndGlyphs">in</tspan> <tspan x="1603.8" y="64.0" textLength="193.2" lengthAdjust="spacingAndGlyphs">organic</tspan> <tspan x="1809.7" y="64.0" textLength="174.3" lengthAdjust="spacingAndGlyphs">traffic!</tspan></text>
<path d="M1243.5,1772.0 C1244.4,1775.8 1246.8,1788.5 1249.0,1794.6 C1251.2,1800.7 1253.5,1804.1 1256.8,1808.6 C1260.0,1813.1 1264.6,1818.0 1268.5,1821.8 C1272.4,1825.6 1276.2,1828.6 1280.1,1831.2 C1284.0,1833.8 1287.9,1835.7 1291.8,1837.4 C1295.7,1839.2 1300.2,1840.9 1303.5,1841.7 C1306.8,1842.5 1308.8,1842.3 1311.3,1842.1 C1313.8,1841.8 1317.1,1840.5 1318.3,1840.2 " fill="none" stroke="#f9652a" stroke-width="7.4" stroke-linecap="round"/>
<path d="M1239.6,1756 L1256,1779 L1247,1773.5 L1236,1778 Z" fill="#f9652a" stroke="#f9652a" stroke-width="6.4" stroke-linejoin="round"/>
<text font-size="49" fill="#5f6b84" stroke="#5f6b84" stroke-width="1.1" stroke-linejoin="round"><tspan x="1337.2" y="1841.0" textLength="106.8" lengthAdjust="spacingAndGlyphs">SEO</tspan> <tspan x="1462.2" y="1841.0" textLength="174.6" lengthAdjust="spacingAndGlyphs">Kicking</tspan> <tspan x="1657.7" y="1841.0" textLength="39.0" lengthAdjust="spacingAndGlyphs">in</tspan> <tspan x="1717.6" y="1841.0" textLength="23.4" lengthAdjust="spacingAndGlyphs">&amp;</tspan> <tspan x="1759.3" y="1841.0" textLength="362.2" lengthAdjust="spacingAndGlyphs">supercharging</tspan> <tspan x="2142.3" y="1841.0" textLength="166.7" lengthAdjust="spacingAndGlyphs">traffic</tspan></text>
</svg></body></html>
